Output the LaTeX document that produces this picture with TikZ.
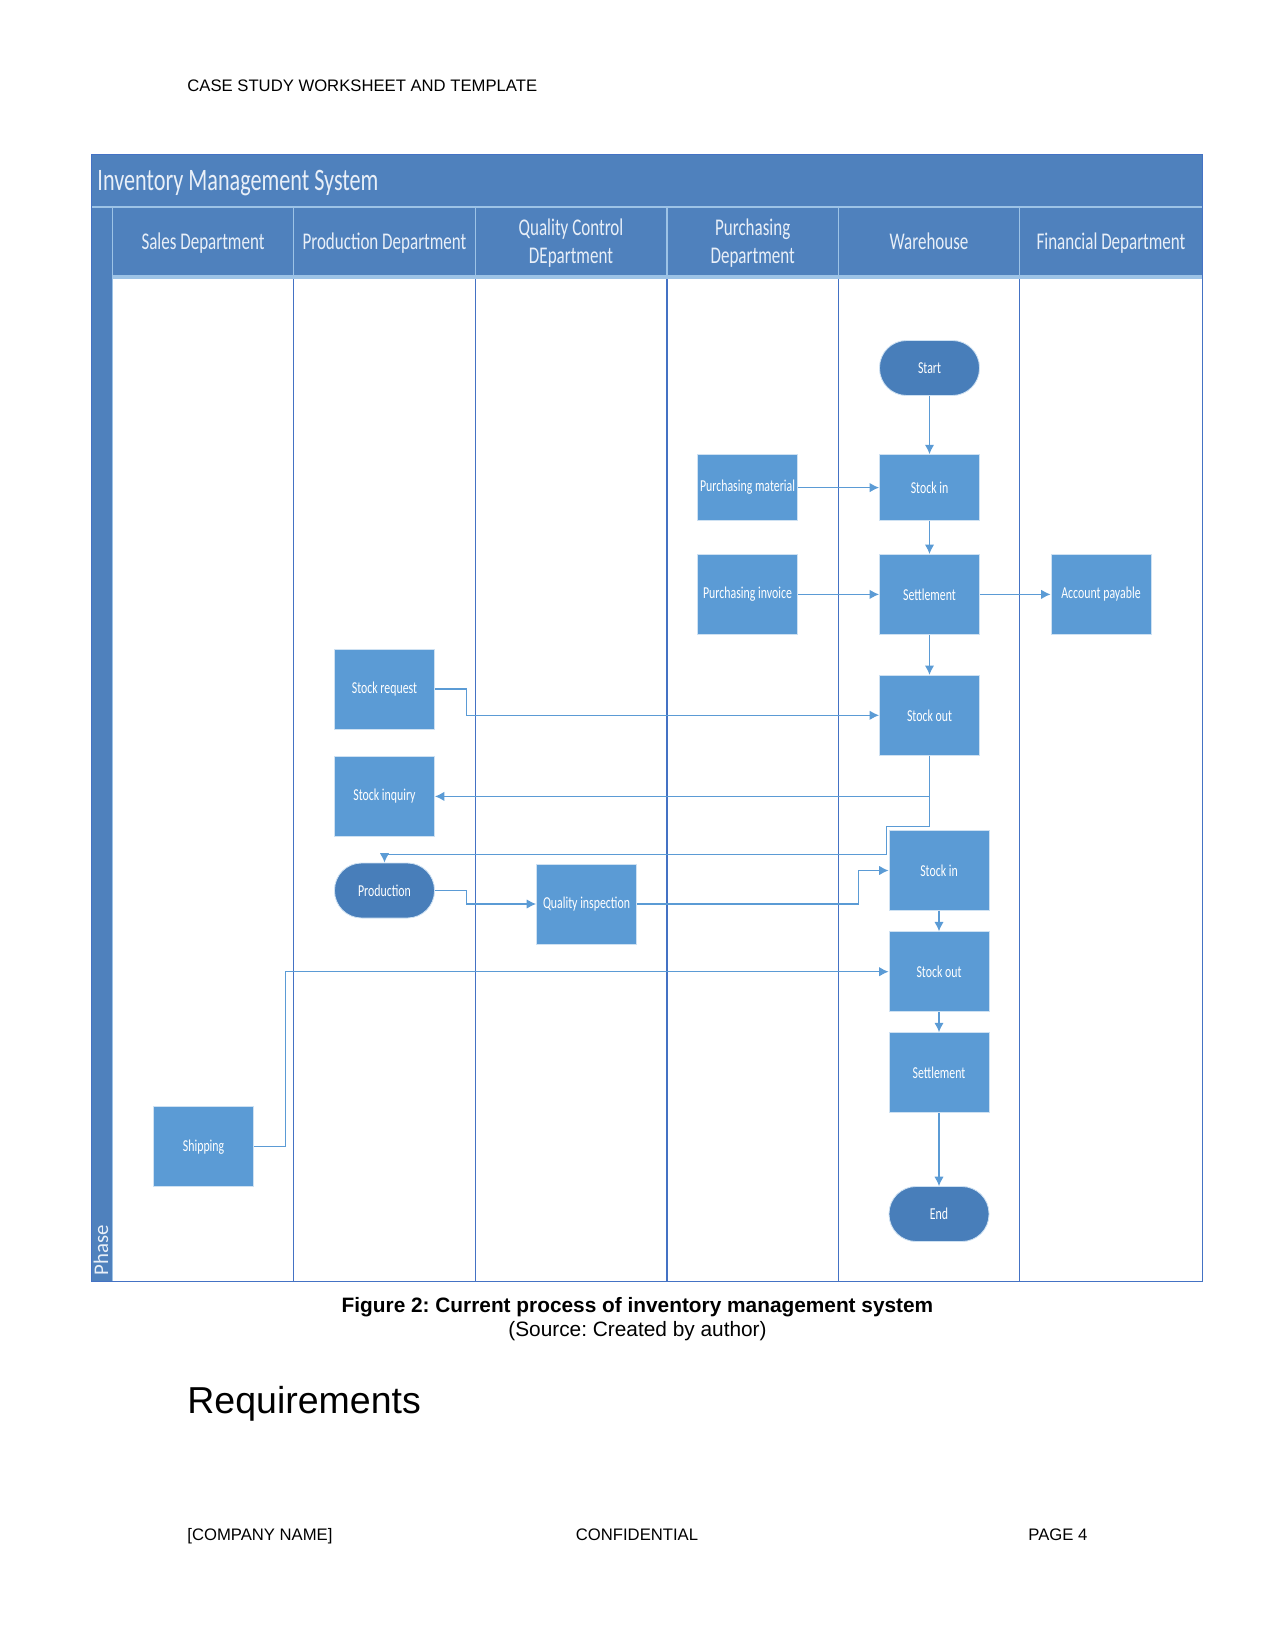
\documentclass[tikz,border=0pt]{standalone}
\usepackage{fontspec}
\setmainfont{Liberation Sans}
\newfontfamily\calib{Carlito}
\usepackage{graphicx}
\usepackage{xcolor}
\usetikzlibrary{positioning}
\usetikzlibrary{arrows.meta}
\frenchspacing

\definecolor{headblue}{RGB}{79,129,189}
\definecolor{boxblue}{RGB}{91,155,213}
\definecolor{termblue}{RGB}{72,126,186}
\definecolor{laneline}{RGB}{68,114,196}
\definecolor{paleline}{RGB}{157,195,230}
\definecolor{headtext}{RGB}{232,239,248}

\newcommand{\sq}[1]{\scalebox{0.71}[1]{#1}}

\tikzset{
  procbox/.style={rectangle, fill=boxblue, draw=paleline!50!white, line width=0.4pt,
    minimum width=48pt, minimum height=38.4pt, inner sep=0pt, text=white,
    font=\calib\fontsize{8}{9}\selectfont},
  termbox/.style={procbox, fill=termblue, rounded corners=13pt, minimum height=26.4pt},
  flow/.style={draw=boxblue, line width=0.6pt, -{Latex[length=4.5pt,width=4.5pt]}},
  lanehead/.style={text=headtext, font=\calib\fontsize{11.5}{13.7}\selectfont, align=center}
}

\begin{document}
\begin{tikzpicture}[x=0.48pt,y=-0.48pt]
\useasboundingbox (0,0) rectangle (1275,1650);

%page text
\node[anchor=base west, inner sep=0pt, font=\fontsize{8}{10}\selectfont] (hdr) at (187,92) {CASE STUDY WORKSHEET AND TEMPLATE};

%frame
\fill[headblue] (91.5,154.6) rectangle (1202.5,277);
\fill[headblue] (91.5,277) rectangle (112.6,1281.5);
\draw[paleline, line width=0.8pt] (91.5,207) -- (1202.5,207);
\foreach \x in {112.6,293.5,475.5,667,838.4,1019.4}
  \draw[paleline, line width=0.6pt] (\x,207) -- (\x,277);
\draw[paleline, line width=0.6pt] (112.6,277) -- (112.6,1281.5);
\foreach \x in {293.5,475.5,667,838.4,1019.4}
  \draw[laneline, line width=0.5pt] (\x,277) -- (\x,1281.5);
\draw[paleline, line width=1.5pt] (112.6,277) -- (1202.5,277);
\draw[laneline, line width=0.6pt] (91.5,154.6) rectangle (1202.5,1281.5);

\node[anchor=west, inner sep=0pt, text=headtext, font=\calib\fontsize{15}{17}\selectfont] (title) at (97,183) {\sq{Inventory Management System}};

\node[lanehead] (salesHd) at (203,243) {\sq{Sales Department}};
\node[lanehead] (prodHd) at (384.5,243) {\sq{Production Department}};
\node[lanehead] (qcHd) at (571,243) {\sq{Quality Control}\\\sq{DEpartment}};
\node[lanehead] (purHd) at (752.7,243) {\sq{Purchasing}\\\sq{Department}};
\node[lanehead] (whHd) at (929,241) {\sq{Warehouse}};
\node[lanehead] (finHd) at (1111,243) {\sq{Financial Department}};

\node[rotate=90, anchor=west, inner sep=0pt, text=headtext, font=\calib\fontsize{10}{12}\selectfont] (phase) at (101,1276) {Phase};

%steps
\node[termbox] (start) at (929.5,368) {\sq{Start}};
\node[procbox, minimum height=31.7pt] (in1) at (929.5,487.6) {\sq{Stock in}};
\node[procbox, minimum height=31.7pt] (pmat) at (747.5,487.6) {\sq{Purchasing material}};
\node[procbox] (set1) at (929.5,594.4) {\sq{Settlement}};
\node[procbox] (pinv) at (747.5,594.4) {\sq{Purchasing invoice}};
\node[procbox] (apay) at (1101,594.4) {\sq{Account payable}};
\node[procbox] (out1) at (929.5,715.3) {\sq{Stock out}};
\node[procbox] (sreq) at (384.5,689) {\sq{Stock request}};
\node[procbox] (sinq) at (384.5,796.4) {\sq{Stock inquiry}};
\node[termbox] (prod) at (384.5,890.5) {\sq{Production}};
\node[procbox] (qins) at (586.5,904) {\sq{Quality inspection}};
\node[procbox] (in2) at (939,870.5) {\sq{Stock in}};
\node[procbox] (out2) at (939,971.7) {\sq{Stock out}};
\node[procbox] (set2) at (939,1072.6) {\sq{Settlement}};
\node[termbox] (finish) at (939,1214) {\sq{End}};
\node[procbox] (ship) at (203.6,1146.7) {\sq{Shipping}};

%connectors
\draw[flow] (start) -- (in1);
\draw[flow] (in1) -- (set1);
\draw[flow] (pmat) -- (in1);
\draw[flow] (pinv) -- (set1);
\draw[flow] (set1) -- (apay);
\draw[flow] (set1) -- (out1);
\draw[flow] (sreq.east) -- ++(31.5,0) |- (out1.west);
\draw[flow] (out1.south) |- (sinq.east);
\draw[flow] (out1.south) -- ++(0,70.7) -- ++(-42.8,0) -- ++(0,28) -| (prod.north);
\draw[flow] (prod.east) -- ++(31.5,0) |- (qins.west);
\draw[flow] (qins.east) -- ++(221.8,0) |- (in2.west);
\draw[flow] (ship.east) -- ++(31.5,0) |- (out2.west);
\draw[flow] (in2) -- (out2);
\draw[flow] (out2) -- (set2);
\draw[flow] (set2) -- (finish);

%caption
\node[anchor=base, inner sep=0pt, font=\bfseries\fontsize{10}{12}\selectfont] (cap) at (637.5,1312) {Figure 2: Current process of inventory management system};
\node[anchor=base, inner sep=0pt, font=\fontsize{10}{12}\selectfont] (src) at (637.5,1336) {(Source: Created by author)};

\node[anchor=base west, inner sep=0pt, font=\fontsize{18}{22}\selectfont] (req) at (187,1413) {Requirements};

%footer
\node[anchor=base west, inner sep=0pt, font=\fontsize{8}{10}\selectfont] (company) at (187,1540) {[COMPANY NAME]};
\node[anchor=base, inner sep=0pt, font=\fontsize{8}{10}\selectfont] (conf) at (637,1540) {CONFIDENTIAL};
\node[anchor=base west, inner sep=0pt, font=\fontsize{8}{10}\selectfont] (page) at (1028,1540) {PAGE 4};
\end{tikzpicture}
\end{document}
